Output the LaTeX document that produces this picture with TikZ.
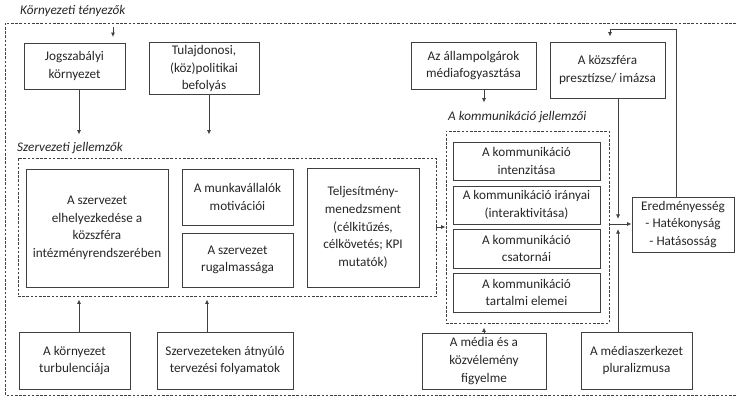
\documentclass[tikz,border=0pt]{standalone}
\usepackage{fontspec}
\setmainfont{Carlito}
\usetikzlibrary{arrows.meta}

\tikzset{
  box/.style={draw=black!75, line width=0.9pt, inner sep=0pt, align=center,
    text=black!85, font=\fontsize{13.2}{17.6}\selectfont},
  dashbox/.style={draw=black!75, line width=0.9pt, dash pattern=on 2.6pt off 1.6pt, inner sep=0pt},
  grouplabel/.style={anchor=west, inner sep=0pt, text=black!85,
    font=\fontsize{13.2}{16}\selectfont\itshape},
  arr/.style={draw=black!75, line width=0.8pt, -{Latex[length=4.5pt,width=4pt]}},
  line/.style={draw=black!75, line width=0.8pt},
}

\begin{document}
\begin{tikzpicture}[x=1pt, y=-1pt]
  \useasboundingbox (0,0) rectangle (736,398);

  % outer frame (open to the right)
  \draw[dashbox] (736,23) -- (5,23) -- (5,395) -- (736,395);
  \node[grouplabel] (kornylabel) at (20,11) {Környezeti tényezők};

  % top row
  \node[box, minimum width=101, minimum height=46] (jog) at (74.5,66) {Jogszabályi\\környezet};
  \node[box, minimum width=110, minimum height=52] (tul) at (204,68.5) {Tulajdonosi,\\(köz)politikai\\befolyás};
  \node[box, minimum width=125, minimum height=47] (allam) at (473.5,65.5) {Az állampolgárok\\médiafogyasztása};
  \node[box, minimum width=115, minimum height=56] (kozszfera) at (607.5,70) {A közszféra\\presztízse/ imázsa};

  % organisational group
  \node[dashbox, minimum width=418, minimum height=138] (szerv) at (227,227) {};
  \node[grouplabel] (szervlabel) at (17,148) {Szervezeti jellemzők};
  \node[box, minimum width=142, minimum height=118] (elhely) at (97,228) {A szervezet\\elhelyezkedése a\\közszféra\\intézményrendszerében};
  \node[box, minimum width=111, minimum height=56] (motiv) at (237.5,197) {A munkavállalók\\motivációi};
  \node[box, minimum width=111, minimum height=54] (rugalm) at (237.5,260) {A szervezet\\rugalmassága};
  \node[box, minimum width=112, minimum height=119] (telj) at (363,227.5) {Teljesítmény-\\menedzsment\\(célkitűzés,\\célkövetés; KPI\\mutatók)};

  % communication group
  \node[dashbox, minimum width=163, minimum height=192] (komm) at (527.5,227) {};
  \node[grouplabel] (kommlabel) at (448,117) {A kommunikáció jellemzői};
  \node[box, minimum width=147, minimum height=38] (intenz) at (526.5,161) {A kommunikáció\\intenzitása};
  \node[box, minimum width=147, minimum height=38] (irany) at (526.5,205) {A kommunikáció irányai\\(interaktivitása)};
  \node[box, minimum width=147, minimum height=39] (csat) at (526.5,248.5) {A kommunikáció\\csatornái};
  \node[box, minimum width=147, minimum height=39] (tartalm) at (526.5,292.5) {A kommunikáció\\tartalmi elemei};

  \node[box, minimum width=102, minimum height=55] (ered) at (683,224.5) {Eredményesség\\- Hatékonyság\\- Hatásosság};

  % bottom row
  \node[box, minimum width=111, minimum height=57] (turb) at (74.5,360.5) {A környezet\\turbulenciája};
  \node[box, minimum width=136, minimum height=57] (terv) at (225,360.5) {Szervezeteken átnyúló\\tervezési folyamatok};
  \node[box, minimum width=124, minimum height=56] (media) at (484,361) {A média és a\\közvélemény\\figyelme};
  \node[box, minimum width=111, minimum height=57] (plural) at (636.5,360.5) {A médiaszerkezet\\pluralizmusa};

  % connectors
  \coordinate (kt) at (113,27);
  \coordinate (jn) at (618,224);
  \draw[arr, shorten >=5.5pt] (kt) -- (kt |- jog.north);
  \draw[arr, shorten >=23pt] (jog.south -| 79,0) -- (szerv.north -| 79,0);
  \draw[arr, shorten >=23pt] (tul.south -| 209,0) -- (szerv.north -| 209,0);
  \draw[arr, shorten >=28pt] (allam.south -| 484,0) -- (komm.north -| 484,0);
  \draw[arr, shorten >=3pt] (turb.north -| 79,0) -- (szerv.south -| 79,0);
  \draw[arr, shorten >=3pt] (terv.north -| 207,0) -- (szerv.south -| 207,0);
  \draw[arr, shorten >=4pt] (media.north) -- (komm.south -| media.north);
  \draw[arr] (szerv.east |- 0,227) -- (komm.west |- 0,227);
  \draw[arr] (komm.east |- jn) -- (ered.west |- jn);
  \draw[arr, shorten >=5pt] (kozszfera.south -| jn) -- (jn);
  \draw[arr, shorten >=5pt] (plural.north -| jn) -- (jn);
  \draw[arr, shorten >=5pt] (ered.north -| 676,0) -- (676,29) -| (kozszfera.north -| 610,0);
\end{tikzpicture}
\end{document}
